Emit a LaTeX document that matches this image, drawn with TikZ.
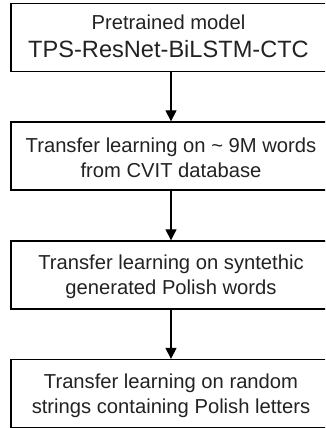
\documentclass[tikz,border=0pt]{standalone}
\usepackage{fontspec}
\setmainfont{Liberation Sans}
\usetikzlibrary{arrows.meta}
\definecolor{txt}{HTML}{222222}
\begin{document}
\begin{tikzpicture}[x=1pt,y=1pt,
  stepbox/.style={draw=black,line width=1.3pt,minimum width=320pt,minimum height=68pt,inner sep=0pt},
  lbl/.style={text=txt,align=center,font=\fontsize{20.2}{25}\selectfont},
  conn/.style={draw=black,line width=1.1pt,-{Triangle[width=11pt,length=11pt]}}]
\useasboundingbox (0,0) rectangle (325,-428);
\begin{scope}
\clip (0,0) rectangle (325,-428);
\node[stepbox] (b1) at (171,-37.5) {};
\node[stepbox] (b2) at (171,-156) {};
\node[stepbox] (b3) at (171,-275) {};
\node[stepbox] (b4) at (171,-393.5) {};
\end{scope}
\node[lbl,anchor=base] (t1a) at (168.5,-30) {Pretrained model};
\node[lbl,anchor=base,font=\fontsize{23.6}{25}\selectfont] (t1b) at (168.5,-57) {TPS-ResNet-BiLSTM-CTC};
\node[lbl] (t2) at (171,-158) {Transfer learning on \textasciitilde{} 9M words\\from CVIT database};
\node[lbl] (t3) at (171,-277) {Transfer learning on syntethic\\generated Polish words};
\node[lbl] (t4) at (171,-395.5) {Transfer learning on random\\strings containing Polish letters};
\draw[conn] (b1.south) -- (b2.north);
\draw[conn] (b2.south) -- (b3.north);
\draw[conn] (b3.south) -- (b4.north);
\end{tikzpicture}
\end{document}
